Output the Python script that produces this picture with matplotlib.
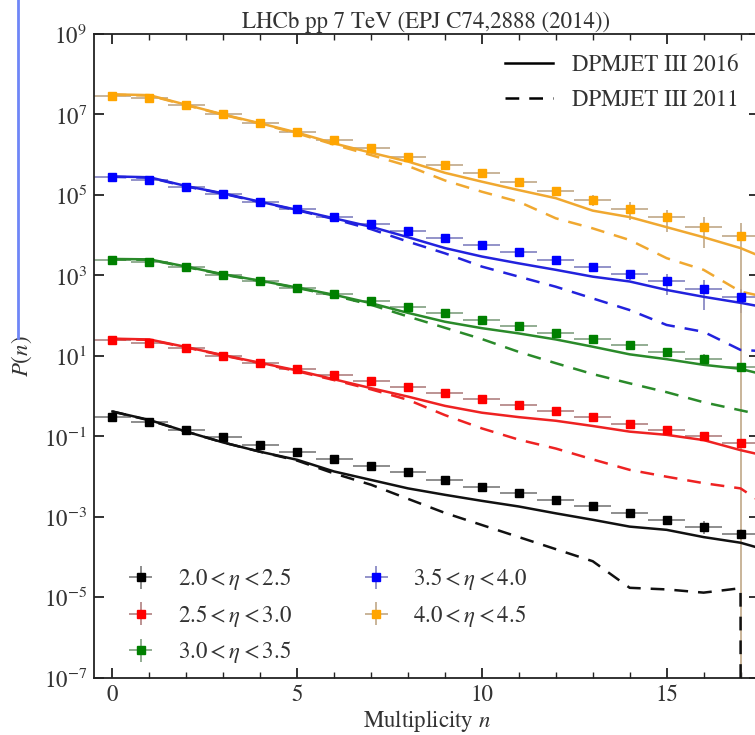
import matplotlib

matplotlib.use("Agg")

import matplotlib.pyplot as plt
import numpy as np
from matplotlib.lines import Line2D
from matplotlib.ticker import FixedLocator, LogFormatterSciNotation, MultipleLocator, NullLocator


plt.rcParams.update(
    {
        "font.family": "STIXGeneral",
        "mathtext.fontset": "stix",
        "font.size": 16.5,
        "axes.linewidth": 1.3,
        "axes.edgecolor": "#222222",
        "xtick.direction": "in",
        "ytick.direction": "in",
        "xtick.top": True,
        "ytick.right": True,
        "xtick.color": "#222222",
        "ytick.color": "#222222",
        "xtick.labelcolor": "#333333",
        "ytick.labelcolor": "#333333",
        "figure.facecolor": "white",
        "axes.facecolor": "white",
    }
)

# multiplicity bins
n_data = np.arange(0, 18)
n_model = np.arange(0, 19)

ETA_LABELS = [
    r"$2.0 < \eta < 2.5$",
    r"$2.5 < \eta < 3.0$",
    r"$3.0 < \eta < 3.5$",
    r"$3.5 < \eta < 4.0$",
    r"$4.0 < \eta < 4.5$",
]

# LHCb P(n), log10, each eta bin scaled by 100 relative to the previous one
logp_eta20 = [-0.51, -0.65, -0.84, -1.02, -1.21, -1.39, -1.56, -1.73, -1.89,
              -2.08, -2.25, -2.41, -2.58, -2.74, -2.91, -3.07, -3.24, -3.42]
logp_eta25 = [1.40, 1.33, 1.19, 1.01, 0.83, 0.68, 0.53, 0.39, 0.24,
              0.09, -0.07, -0.22, -0.37, -0.52, -0.69, -0.84, -1.00, -1.17]
logp_eta30 = [3.39, 3.34, 3.20, 3.02, 2.86, 2.68, 2.54, 2.37, 2.21,
              2.06, 1.89, 1.75, 1.58, 1.41, 1.26, 1.09, 0.93, 0.73]
logp_eta35 = [5.44, 5.37, 5.21, 5.02, 4.83, 4.64, 4.46, 4.28, 4.11,
              3.93, 3.75, 3.58, 3.39, 3.21, 3.03, 2.85, 2.66, 2.47]
logp_eta40 = [7.47, 7.40, 7.23, 7.01, 6.80, 6.57, 6.37, 6.17, 5.95,
              5.75, 5.54, 5.32, 5.11, 4.88, 4.66, 4.44, 4.21, 3.98]

# relative uncertainties on P(n)
rel_err_eta20 = [0.02, 0.02, 0.03, 0.04, 0.05, 0.06, 0.07, 0.08, 0.10,
                 0.12, 0.14, 0.16, 0.18, 0.20, 0.22, 0.25, 0.35, 0.30]
rel_err_eta25 = [0.02, 0.02, 0.03, 0.04, 0.05, 0.06, 0.07, 0.08, 0.10,
                 0.11, 0.12, 0.14, 0.16, 0.18, 0.20, 0.22, 0.25, 0.20]
rel_err_eta30 = [0.02, 0.02, 0.03, 0.04, 0.05, 0.06, 0.07, 0.08, 0.09,
                 0.10, 0.11, 0.12, 0.14, 0.16, 0.18, 0.20, 0.30, 0.20]
rel_err_eta35 = [0.02, 0.02, 0.03, 0.04, 0.05, 0.06, 0.07, 0.08, 0.09,
                 0.10, 0.12, 0.14, 0.18, 0.22, 0.30, 0.55, 0.70, 0.60]
rel_err_eta40 = [0.02, 0.02, 0.03, 0.04, 0.05, 0.06, 0.07, 0.08, 0.09,
                 0.10, 0.11, 0.12, 0.20, 0.30, 0.48, 0.57, 0.70, 1.05]

# DPMJET III 2016, log10 P(n)
logm16_eta20 = [-0.38, -0.59, -0.88, -1.15, -1.38, -1.58, -1.87, -2.08, -2.29,
                -2.45, -2.60, -2.74, -2.91, -3.07, -3.24, -3.32, -3.50, -3.64, -3.90]
logm16_eta25 = [1.43, 1.41, 1.22, 1.02, 0.83, 0.64, 0.42, 0.20, -0.01,
                -0.24, -0.41, -0.52, -0.61, -0.74, -0.88, -0.96, -1.09, -1.34, -1.55]
logm16_eta30 = [3.41, 3.40, 3.22, 3.03, 2.87, 2.70, 2.52, 2.31, 2.07,
                1.85, 1.69, 1.56, 1.41, 1.23, 1.04, 0.92, 0.78, 0.68, 0.45]
logm16_eta35 = [5.46, 5.44, 5.22, 5.04, 4.83, 4.63, 4.42, 4.21, 3.95,
                3.68, 3.47, 3.30, 3.14, 2.97, 2.85, 2.64, 2.47, 2.32, 2.15]
logm16_eta40 = [7.50, 7.48, 7.24, 7.00, 6.78, 6.55, 6.28, 6.05, 5.83,
                5.55, 5.33, 5.12, 4.92, 4.61, 4.45, 4.20, 3.95, 3.68, 3.30]

# DPMJET III 2011, log10 P(n); the last 2.0<eta<2.5 bin is empty
logm11_eta20 = [-0.38, -0.60, -0.88, -1.15, -1.38, -1.60, -1.92, -2.20, -2.55,
                -2.90, -3.20, -3.50, -3.80, -4.10, -4.76, -4.80, -4.88, -4.77, None]
logm11_eta25 = [1.42, 1.40, 1.21, 1.01, 0.82, 0.62, 0.40, 0.17, -0.09,
                -0.47, -0.80, -1.08, -1.30, -1.57, -1.83, -2.00, -2.16, -2.29, -2.90]
logm11_eta30 = [3.40, 3.39, 3.21, 3.02, 2.86, 2.69, 2.50, 2.27, 1.98,
                1.70, 1.42, 1.10, 0.82, 0.55, 0.32, 0.10, -0.15, -0.35, -0.55]
logm11_eta35 = [5.45, 5.43, 5.21, 5.03, 4.82, 4.62, 4.40, 4.15, 3.84,
                3.55, 3.22, 2.97, 2.72, 2.43, 2.14, 1.77, 1.60, 1.15, 1.10]
logm11_eta40 = [7.49, 7.47, 7.23, 6.99, 6.77, 6.53, 6.25, 5.99, 5.72,
                5.36, 5.08, 4.83, 4.42, 4.17, 3.88, 3.43, 3.14, 2.60, 2.40]

MARKER_COLORS = ["#000000", "#ff0000", "#008000", "#0000ff", "#ffa500"]
LINE_COLORS = ["#111111", "#ee2222", "#2a8a2a", "#2222dd", "#f0a830"]
ERR_COLORS = ["#7a7a7a", "#b08080", "#80a080", "#8080c0", "#c0a888"]
TEXT = "#333333"
DASH = (0, (5.5, 4))


def to_linear(logs):
    # None marks an empty bin (P = 0)
    return np.array([0.0 if v is None else 10.0 ** v for v in logs])


fig = plt.figure(figsize=(7.55, 7.35), dpi=100)
ax = fig.add_axes([0.1245, 0.0776, 0.8808, 0.8762])
ax.set_yscale("log", nonpositive="clip")

data = [logp_eta20, logp_eta25, logp_eta30, logp_eta35, logp_eta40]
errs = [rel_err_eta20, rel_err_eta25, rel_err_eta30, rel_err_eta35, rel_err_eta40]
mod16 = [logm16_eta20, logm16_eta25, logm16_eta30, logm16_eta35, logm16_eta40]
mod11 = [logm11_eta20, logm11_eta25, logm11_eta30, logm11_eta35, logm11_eta40]

handles = []
for i in range(5):
    p = to_linear(data[i])
    ax.plot(n_model, to_linear(mod16[i]), color=LINE_COLORS[i], lw=1.8, zorder=3)
    ax.plot(n_model, to_linear(mod11[i]), color=LINE_COLORS[i], lw=1.8, ls=DASH, zorder=3)
    h = ax.errorbar(
        n_data, p, yerr=p * np.array(errs[i]), xerr=0.5,
        fmt="s", ms=6, color=MARKER_COLORS[i], ecolor=ERR_COLORS[i],
        elinewidth=1.2, capsize=0, label=ETA_LABELS[i], zorder=2,
    )
    h[0].set_zorder(4)
    handles.append(h)

ax.set_xlim(-0.5, 17.5)
ax.set_ylim(1e-7, 1e9)
ax.xaxis.set_major_locator(MultipleLocator(5))
ax.xaxis.set_minor_locator(MultipleLocator(1))
ax.yaxis.set_major_locator(FixedLocator([10.0 ** k for k in range(-7, 10, 2)]))
ax.yaxis.set_major_formatter(LogFormatterSciNotation())
ax.yaxis.set_minor_locator(NullLocator())
ax.tick_params(which="major", length=7, width=1.3, labelsize=16.5, pad=5)
ax.tick_params(which="minor", length=4, width=1.0)

ax.set_title("LHCb pp 7 TeV (EPJ C74,2888 (2014))", fontsize=16.5, color=TEXT, pad=4)
ax.set_xlabel(r"Multiplicity $n$", fontsize=16.5, color=TEXT, labelpad=1)
ax.set_ylabel(r"$P(n)$", fontsize=16.5, color=TEXT)
ax.yaxis.set_label_coords(-0.09, 0.5)

model_handles = [
    Line2D([], [], color="black", lw=1.8),
    Line2D([], [], color="black", lw=1.8, ls=DASH),
]
leg1 = ax.legend(model_handles, ["DPMJET III 2016", "DPMJET III 2011"],
                 loc="upper right", bbox_to_anchor=(1.0, 1.0), frameon=False,
                 fontsize=16.5, handlelength=2.1, handletextpad=0.8, labelspacing=0.6)
for t in leg1.get_texts():
    t.set_color(TEXT)
ax.add_artist(leg1)

leg2 = ax.legend(handles, ETA_LABELS, loc="lower left", bbox_to_anchor=(0.012, -0.012),
                 ncol=2, frameon=False, fontsize=16.5, handlelength=1.6,
                 columnspacing=2.9, labelspacing=0.45, handletextpad=0.8)
for t in leg2.get_texts():
    t.set_color(TEXT)

# stray page rule along the left margin
fig.add_artist(Line2D([18 / 755, 18 / 755], [1.0, 1 - 338 / 735],
                      transform=fig.transFigure, color="#6f86f7", lw=2))

fig.savefig("out.png", dpi=100)
